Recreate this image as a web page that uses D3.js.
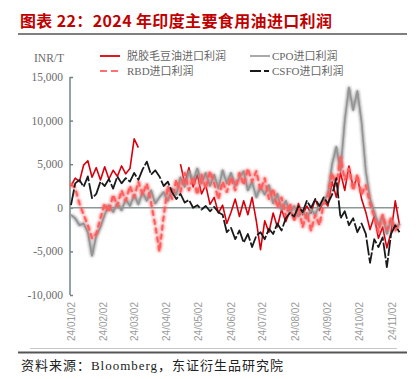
<!DOCTYPE html>
<html><head><meta charset="utf-8">
<script src="https://cdn.jsdelivr.net/npm/d3@7"></script>
<style>
html,body{margin:0;padding:0;background:#fff;}
svg{display:block;}
</style></head>
<body>
<svg id="c" width="419" height="379"></svg>
<script>
// ---- data ----
const dates = ["01-02","01-06","01-10","01-14","01-18","01-22","01-26","01-30",
"02-03","02-07","02-11","02-15","02-19","02-23","02-27",
"03-02","03-06","03-10","03-14","03-18","03-22","03-26","03-30",
"04-03","04-07","04-11","04-15","04-19","04-23","04-27",
"05-01","05-05","05-09","05-13","05-17","05-21","05-25","05-29",
"06-02","06-06","06-10","06-14","06-18","06-22","06-26","06-30",
"07-04","07-08","07-12","07-16","07-20","07-24","07-28",
"08-01","08-05","08-09","08-13","08-17","08-21","08-25","08-29",
"09-02","09-06","09-10","09-14","09-18","09-22","09-26","09-30",
"10-04","10-08","10-12","10-16","10-20","10-24","10-28",
"11-01","11-05","11-09"];

// 脱胶毛豆油 (thousand INR/T)
const degummedSoy = [2.5,3.4,3.0,4.9,5.4,3.5,4.6,3.2,
4.7,3.3,4.3,3.6,4.8,3.9,4.5,
7.9,6.9,null,null,null,null,null,null,
null,null,null,5.0,2.8,4.6,2.4,
3.8,1.6,2.6,0.4,1.2,-0.6,0.3,-1.8,
-0.5,1.0,-1.0,0.8,-0.8,1.2,-1.5,-4.8,
-1.5,-2.8,-0.6,-2.2,-0.2,-1.6,-0.3,
-1.4,0.5,-0.8,0.2,-0.6,1.0,-0.3,0.8,
0.2,3.0,1.2,4.0,2.0,4.8,2.3,3.6,
1.0,-0.5,-2.5,-1.0,-3.5,-2.2,-4.6,
-2.8,0.8,-2.0];

// RBD
const rbd = [2.8,2.2,0.5,-0.8,-2.0,-3.5,-3.0,-1.2,
0.5,-0.5,1.5,0.2,2.0,0.8,2.5,
1.2,3.0,1.5,2.8,0.6,-2.0,-5.0,-1.0,
2.5,1.0,3.2,1.8,4.0,2.0,3.5,
1.5,3.8,2.2,4.2,2.8,1.0,3.0,1.8,
3.5,2.0,4.0,2.6,4.5,3.0,4.2,2.0,
3.4,1.0,2.2,0.0,1.2,-1.0,0.5,
-1.5,0.2,-2.2,-0.6,-2.6,-0.8,-2.0,0.5,
1.2,4.0,2.5,5.8,3.2,4.5,2.0,3.8,
1.5,2.6,0.5,-1.0,-2.8,-0.8,-2.5,
-1.2,-2.6,-1.8];

// CPO
const cpo = [-0.8,-1.2,-2.0,-1.8,-2.8,-5.5,-3.2,-2.2,
-0.8,0.3,-0.5,0.5,-0.3,1.0,0.2,
1.5,0.4,1.8,0.8,2.0,0.5,1.2,1.8,
0.8,2.2,1.5,3.5,2.4,4.2,3.0,
4.5,2.8,4.0,2.5,3.8,2.2,4.3,2.8,
4.0,2.5,3.5,4.2,2.0,3.0,1.2,2.4,
1.5,2.6,0.5,1.6,-0.2,0.8,-0.6,
0.2,-1.0,-0.3,-1.2,-0.2,-0.8,0.3,0.8,
1.5,5.0,7.0,4.2,10.0,13.8,11.2,13.4,
9.8,4.2,1.0,-0.5,-2.0,-1.0,-3.0,
-1.4,-2.4,-1.8];

// CSFO
const csfo = [0.3,2.8,3.2,2.4,3.6,1.1,1.6,3.0,
2.5,3.3,2.2,3.6,2.8,3.4,3.0,
4.0,3.2,4.4,5.3,3.8,4.3,3.6,2.5,
3.0,1.8,1.0,1.6,0.6,0.9,0.0,
0.3,-0.2,0.2,-0.4,0.1,-0.5,-0.8,-2.8,
-2.3,-3.6,-2.6,-4.0,-3.0,-4.5,-3.2,-2.8,
-3.6,-2.4,-3.0,-1.8,-2.6,-1.2,-0.6,
-1.0,0.2,-0.5,0.8,0.0,1.0,0.2,1.2,
0.5,1.5,3.4,-1.2,-0.4,-2.0,-1.2,-2.8,
-1.8,-3.0,-6.3,-3.6,-4.5,-3.4,-6.8,
-3.0,-2.0,-2.8];

const yTicks = [15000,10000,5000,0,-5000,-10000];
const xTickLabels = ["24/01/02","24/02/02","24/03/02","24/04/02","24/05/02","24/06/02","24/07/02","24/08/02","24/09/02","24/10/02","24/11/02"];

const seriesNames = ["脱胶毛豆油进口利润","RBD进口利润","CPO进口利润","CSFO进口利润"];

// ---- chart ----
const svg = d3.select("#c");
const parse = d3.timeParse("%Y-%m-%d");
const parseTick = d3.timeParse("%y/%m/%d");
const xd = dates.map(s => parse("2024-" + s));

const x = d3.scaleTime().domain([parse("2024-01-02"), parse("2024-11-09")]).range([71, 399.5]);
const y = d3.scaleLinear().domain([-10000, 15000]).range([295, 77]);

const defs = svg.append("defs");
const f = defs.append("filter").attr("id","glow").attr("filterUnits","userSpaceOnUse")
  .attr("x",0).attr("y",0).attr("width",419).attr("height",379);
f.append("feGaussianBlur").attr("in","SourceGraphic").attr("stdDeviation",1.8).attr("result","b");
const fm = f.append("feMerge");
fm.append("feMergeNode").attr("in","b");
fm.append("feMergeNode").attr("in","b");
fm.append("feMergeNode").attr("in","SourceGraphic");

// title
svg.append("text").attr("x",20).attr("y",27)
  .attr("font-family","'Noto Sans CJK SC', sans-serif").attr("font-weight","bold")
  .attr("font-size",16).attr("fill","#c00000")
  .attr("textLength",312).attr("lengthAdjust","spacing")
  .text("图表 22：2024 年印度主要食用油进口利润");
svg.append("line").attr("x1",18).attr("x2",407).attr("y1",34).attr("y2",34)
  .attr("stroke","#555").attr("stroke-width",1.5);

// y axis
const axisColor = "#6f8384";
const yAxis = svg.append("g").attr("transform","translate(70,0)")
  .call(d3.axisRight(y).tickValues(yTicks).tickSize(3).tickFormat(""));
yAxis.select(".domain").attr("stroke",axisColor).attr("stroke-width",1.5)
  .attr("d","M0,77V295");
yAxis.selectAll(".tick line").attr("stroke",axisColor).attr("stroke-width",1.5);

const fmt = d3.format(",");
svg.append("g").selectAll("text").data(yTicks).join("text")
  .attr("x",63).attr("y",d => y(d)+4).attr("text-anchor","end")
  .attr("font-family","'Liberation Serif','Times New Roman',serif")
  .attr("font-size",11.5).attr("fill","#6b6b6b")
  .text(d => fmt(d).replace("−","-"));
svg.append("text").attr("x",34).attr("y",62)
  .attr("font-family","'Liberation Serif','Times New Roman',serif")
  .attr("font-size",11.5).attr("fill","#6b6b6b").text("INR/T");

// zero line
svg.append("line").attr("x1",70).attr("x2",399).attr("y1",y(0)).attr("y2",y(0))
  .attr("stroke","#8a9898").attr("stroke-width",1.5);

// x tick labels
svg.append("g").selectAll("text").data(xTickLabels).join("text")
  .attr("transform",d => `translate(${x(parseTick(d))+3.5},302) rotate(-90)`)
  .attr("text-anchor","end")
  .attr("font-family","'Liberation Sans',Arial,sans-serif")
  .attr("font-size",10).attr("fill","#9a9a9a")
  .text(d => d);

// lines
const line = d3.line().defined(d => d[1] !== null)
  .x(d => x(d[0])).y(d => y(d[1]*1000));
const pts = arr => arr.map((v,i) => [xd[i], v]);

const g = svg.append("g");
g.append("path").datum(pts(degummedSoy)).attr("d",line)
  .attr("fill","none").attr("stroke","#d9000d").attr("stroke-width",1.6).attr("stroke-linejoin","round");
g.append("path").datum(pts(cpo)).attr("d",line)
  .attr("fill","none").attr("stroke","#959595").attr("stroke-width",1.6)
  .attr("stroke-linejoin","round").attr("filter","url(#glow)");
g.append("path").datum(pts(rbd)).attr("d",line)
  .attr("fill","none").attr("stroke","#ff5c5c").attr("stroke-width",1.8)
  .attr("stroke-dasharray","6,3").attr("stroke-linejoin","round").attr("filter","url(#glow)");
g.append("path").datum(pts(csfo)).attr("d",line)
  .attr("fill","none").attr("stroke","#1a1a1a").attr("stroke-width",1.8)
  .attr("stroke-dasharray","16,2").attr("stroke-linejoin","round");

// legend
const lf = "'Liberation Serif','Noto Sans CJK SC',serif";
const leg = [
  {x:100, y:56, name:seriesNames[0], stroke:"#d9000d", dash:null, w:1.8},
  {x:100, y:71, name:seriesNames[1], stroke:"#ff7070", dash:"7,4", w:2},
  {x:250, y:56, name:seriesNames[2], stroke:"#959595", dash:null, w:1.6},
  {x:250, y:71, name:seriesNames[3], stroke:"#1a1a1a", dash:"11,3,5,30", w:2}
];
const lg = svg.append("g").selectAll("g").data(leg).join("g");
lg.append("line").attr("x1",d => d.x).attr("x2",d => d.x+20)
  .attr("y1",d => d.y).attr("y2",d => d.y)
  .attr("stroke",d => d.stroke).attr("stroke-width",d => d.w)
  .attr("stroke-dasharray",d => d.dash);
lg.append("text").attr("x",d => d.x+(d.x<200?27:22)).attr("y",d => d.y+4)
  .attr("font-family",lf).attr("font-size",11).attr("fill","#666")
  .text(d => d.name);

// footer
svg.append("line").attr("x1",30).attr("x2",397).attr("y1",348.5).attr("y2",348.5)
  .attr("stroke","#c8c8c8").attr("stroke-width",1);
svg.append("line").attr("x1",18).attr("x2",407).attr("y1",352.5).attr("y2",352.5)
  .attr("stroke","#555").attr("stroke-width",1.8);
svg.append("text").attr("x",21).attr("y",370)
  .attr("font-family","'Liberation Serif','Noto Sans CJK SC',serif")
  .attr("font-size",13).attr("fill","#222")
  .attr("textLength",262).attr("lengthAdjust","spacing")
  .text("资料来源：Bloomberg，东证衍生品研究院");
</script>
</body></html>
